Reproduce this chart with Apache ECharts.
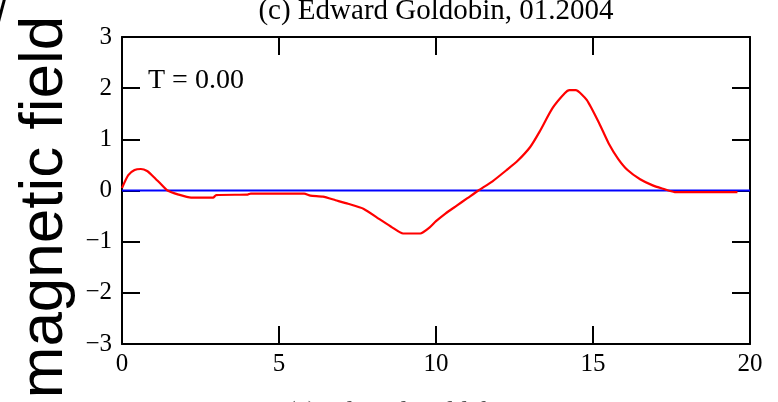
<!DOCTYPE html>
<html>
<head>
<meta charset="utf-8">
<script src="https://cdn.jsdelivr.net/npm/echarts@6/dist/echarts.min.js"></script>
<style>
  html, body { margin: 0; padding: 0; background: #fff; }
  #main { width: 778px; height: 402px; }
</style>
</head>
<body>
<div id="main"></div>
<script>
// curve
var xData = [0, 0.2, 0.4, 0.6, 0.8, 1.0, 1.2, 1.45, 1.8, 2.2, 2.9, 3.0, 4.0, 4.1, 5.8, 6.0, 6.4, 6.8, 7.2, 7.7, 8.2, 8.6, 8.95, 9.5, 9.8, 10.0, 10.3, 10.65, 11.0, 11.35, 11.8, 12.25, 12.6, 13.0, 13.3, 13.7, 14.1, 14.25, 14.45, 14.8, 15.2, 15.5, 15.8, 16.1, 16.5, 16.9, 17.2, 17.6, 19.6];
var yData = [0.05, 0.3, 0.4, 0.42, 0.38, 0.27, 0.15, 0, -0.08, -0.14, -0.14, -0.09, -0.08, -0.06, -0.06, -0.1, -0.12, -0.19, -0.26, -0.36, -0.56, -0.72, -0.84, -0.84, -0.72, -0.6, -0.45, -0.3, -0.15, 0, 0.18, 0.4, 0.58, 0.85, 1.15, 1.6, 1.9, 1.96, 1.96, 1.77, 1.31, 0.92, 0.62, 0.4, 0.22, 0.1, 0.04, -0.03, -0.03];
var zeroLineX = [0, 20];
var zeroLineY = [0, 0];
var xTicks = [0, 5, 10, 15, 20];
var yTicks = [-3, -2, -1, 0, 1, 2, 3];
var titleText = "(c) Edward Goldobin, 01.2004";
var yName = "magnetic field";
var timeLabel = "T = 0.00";

var curve = xData.map(function (x, i) { return [x, yData[i]]; });
var zero = zeroLineX.map(function (x, i) { return [x, zeroLineY[i]]; });

var serif = "'Liberation Serif', 'Times New Roman', serif";
var myChart = echarts.init(document.getElementById("main"));

var tickStyle = { show: true, inside: true, length: 18, lineStyle: { color: "#000", width: 2 } };
var lineStyle = { show: true, onZero: false, lineStyle: { color: "#000", width: 2 } };

myChart.setOption({
  animation: false,
  grid: { left: 122, right: 28, top: 37, bottom: 58 },
  xAxis: [
    {
      type: "value", position: "bottom",
      min: xTicks[0], max: xTicks[xTicks.length - 1], interval: 5,
      axisLine: lineStyle, axisTick: tickStyle, splitLine: { show: false },
      axisLabel: { margin: 8, color: "#000", fontFamily: serif, fontSize: 25 }
    },
    {
      type: "value", position: "top",
      min: xTicks[0], max: xTicks[xTicks.length - 1], interval: 5,
      axisLine: lineStyle, axisTick: tickStyle, splitLine: { show: false },
      axisLabel: { show: false }
    }
  ],
  yAxis: [
    {
      type: "value", position: "left",
      min: yTicks[0], max: yTicks[yTicks.length - 1], interval: 1,
      axisLine: lineStyle, axisTick: tickStyle, splitLine: { show: false },
      axisLabel: {
        margin: 10, color: "#000", fontFamily: serif, fontSize: 25,
        formatter: function (v) { return String(v).replace("-", "\u2212"); }
      }
    },
    {
      type: "value", position: "right",
      min: yTicks[0], max: yTicks[yTicks.length - 1], interval: 1,
      axisLine: lineStyle, axisTick: tickStyle, splitLine: { show: false },
      axisLabel: { show: false }
    }
  ],
  series: [
    {
      type: "line", data: zero, symbol: "none",
      lineStyle: { color: "#0000ff", width: 2 }
    },
    {
      type: "line", data: curve, symbol: "none", smooth: 0.2,
      lineStyle: { color: "#ff0000", width: 2.2 }
    }
  ],
  graphic: [
    {
      type: "text", x: 436, y: -3,
      style: { text: titleText, fill: "#000", font: "29px " + serif, align: "center", verticalAlign: "top" }
    },
    {
      type: "text", x: 148, y: 81,
      style: { text: timeLabel, fill: "#000", font: "28px " + serif, verticalAlign: "middle" }
    },
    {
      type: "text", x: 45, y: 207, rotation: Math.PI / 2,
      style: { text: yName, fill: "#000", font: "62px 'Liberation Sans', Arial, sans-serif", align: "center", verticalAlign: "middle" }
    },
    {
      type: "text", x: -4, y: -6,
      style: { text: "/", fill: "#000", font: "40px 'Liberation Sans', Arial, sans-serif" }
    },
    {
      type: "text", x: 452, y: 399,
      style: { text: titleText, fill: "#555", font: "27px " + serif, align: "center", verticalAlign: "top" }
    }
  ]
});
</script>
</body>
</html>
